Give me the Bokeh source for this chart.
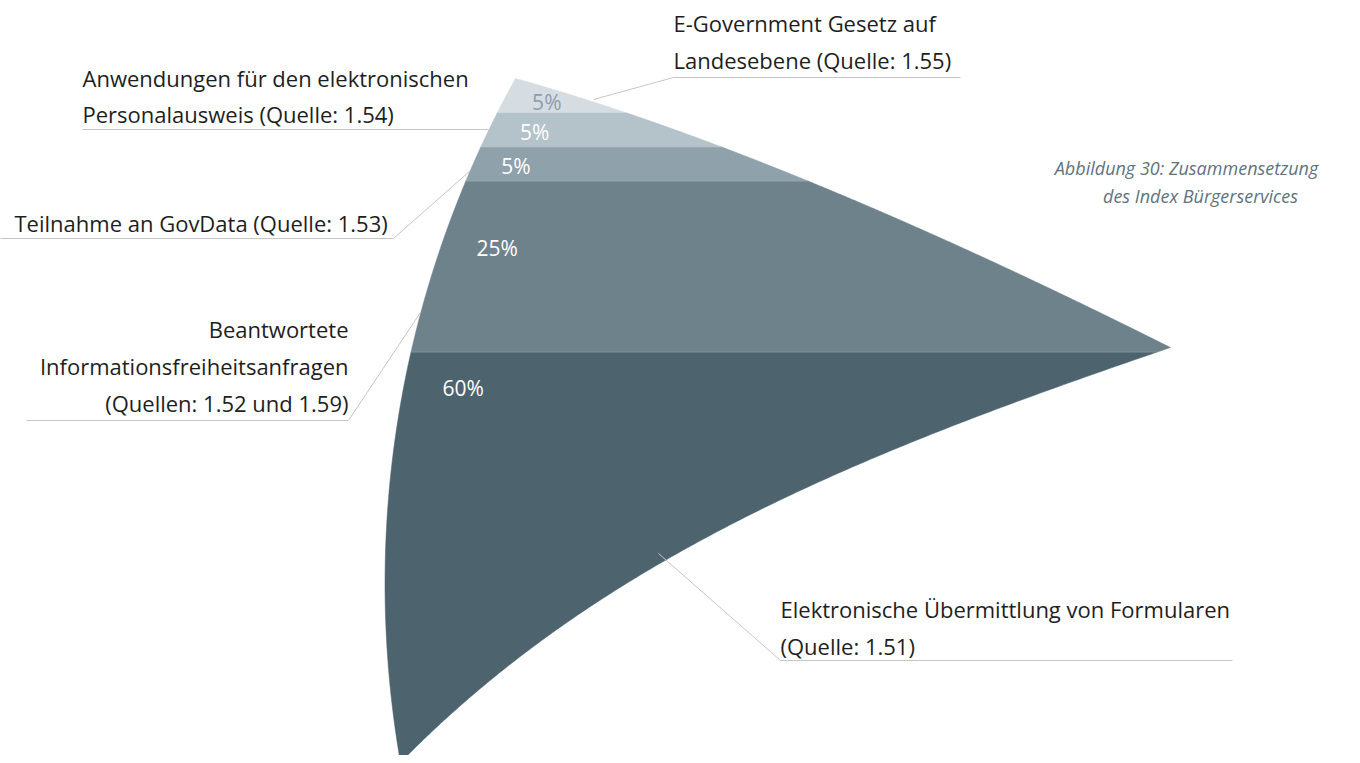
import numpy as np
from bokeh.plotting import figure
from bokeh.models import Range1d
from bokeh.core.properties import value
from bokeh.embed import file_html
from bokeh.resources import INLINE

# ---------------- data (top band first) ----------------
categories = [
    "E-Government Gesetz auf Landesebene (Quelle: 1.55)",
    "Anwendungen für den elektronischen Personalausweis (Quelle: 1.54)",
    "Teilnahme an GovData (Quelle: 1.53)",
    "Beantwortete Informationsfreiheitsanfragen (Quellen: 1.52 und 1.59)",
    "Elektronische Übermittlung von Formularen (Quelle: 1.51)",
]
shares = [5, 5, 5, 25, 60]
pct_labels = ["5%", "5%", "5%", "25%", "60%"]

label_lines = [
    ["E-Government Gesetz auf", "Landesebene (Quelle: 1.55)"],
    ["Anwendungen für den elektronischen", "Personalausweis (Quelle: 1.54)"],
    ["Teilnahme an GovData (Quelle: 1.53)"],
    ["Beantwortete", "Informationsfreiheitsanfragen", "(Quellen: 1.52 und 1.59)"],
    ["Elektronische Übermittlung von Formularen", "(Quelle: 1.51)"],
]
title_lines = ["Abbildung 30: Zusammensetzung", "des Index Bürgerservices"]

# ---------------- styling ----------------
band_colors = ["#d5dde2", "#b4c2c9", "#8fa1aa", "#6e828c", "#4d636e"]
pct_colors = ["#8d9ea8", "#ffffff", "#ffffff", "#ffffff", "#ffffff"]
FONT = "Open Sans"

# ---------------- geometry of the outline (screen-like coords) ----------------
TOP_Y, BOT_Y = 78.0, 762.0
CX, CY, R = 1427.0, 583.0, 1042.5  # left arc


def left_x(y):
    return CX - np.sqrt(R ** 2 - (y - CY) ** 2)


t = np.linspace(0, 1, 400)
# upper right edge (quadratic Bezier)
q0, q1, q2 = np.array([515.0, 78.0]), np.array([781.0, 152.0]), np.array([1170.0, 347.0])
up = ((1 - t) ** 2)[:, None] * q0 + (2 * t * (1 - t))[:, None] * q1 + (t ** 2)[:, None] * q2
# lower right edge (cubic Bezier)
c0, c1, c2, c3 = (np.array([1170.0, 347.0]), np.array([886.0, 444.0]),
                  np.array([609.0, 548.0]), np.array([400.0, 762.0]))
lo = (((1 - t) ** 3)[:, None] * c0 + (3 * t * (1 - t) ** 2)[:, None] * c1
      + (3 * t ** 2 * (1 - t))[:, None] * c2 + (t ** 3)[:, None] * c3)
right_pts = np.vstack([up, lo[1:]])
VERTEX_Y = 347.0


def right_x(y):
    return np.interp(y, right_pts[:, 1], right_pts[:, 0])


# band boundaries from shares
cum = np.concatenate([[0], np.cumsum(shares)]) / float(sum(shares))
bounds = TOP_Y + cum * (BOT_Y - TOP_Y)

p = figure(width=1344, height=755, output_backend="svg", toolbar_location=None,
           x_range=Range1d(0, 1344), y_range=Range1d(755, 0), min_border=0)
p.xaxis.visible = False
p.yaxis.visible = False
p.grid.visible = False
p.outline_line_color = None
p.background_fill_color = "white"
p.border_fill_color = "white"

xs_list, ys_list = [], []
for i in range(len(shares)):
    y0, y1 = bounds[i], bounds[i + 1]
    ys = np.linspace(y0, y1, 200)
    if y0 < VERTEX_Y < y1:
        ys = np.sort(np.append(ys, VERTEX_Y))
    xl = left_x(ys)
    xr = right_x(ys)
    xs_list.append(list(np.concatenate([xl, xr[::-1]])))
    ys_list.append(list(np.concatenate([ys, ys[::-1]])))

p.patches(xs_list, ys_list, fill_color=band_colors, line_color=band_colors, line_width=0.5)
# thin light separators between bands
for b in bounds[1:-1]:
    p.line([left_x(b), right_x(b)], [b, b], line_color="#ffffff", line_alpha=0.25, line_width=1)

# percentage labels
pct_offsets = [23, 19, 19, 67, 36]
pct_dx = [29, 32, 29, 36, 39]
for i in range(len(shares)):
    yy = bounds[i] + pct_offsets[i]
    p.text([left_x(yy) + pct_dx[i]], [yy], text=[pct_labels[i]], text_color=pct_colors[i],
           text_font=value(FONT), text_font_size="21px", text_baseline="middle", text_align="left")

# leader lines
LC = "#c6c6c6"
leaders = [
    ([593, 673, 960], [99, 77, 77]),
    ([82, 488], [129, 129]),
    ([0, 393, 470], [238, 238, 170]),
    ([26, 348, 420], [420, 420, 312]),
    ([658, 780, 1232], [553, 660, 660]),
]
for lx, ly in leaders:
    p.line(lx, ly, line_color=LC, line_width=1)

# category labels
label_pos = [
    (673, [22, 59], "left"),
    (82, [77, 113], "left"),
    (14, [222], "left"),
    (348, [328, 365, 402], "right"),
    (780, [608, 645], "left"),
]
for lines, (lx, lys, al) in zip(label_lines, label_pos):
    p.text([lx] * len(lines), lys, text=lines, text_color="#1e1e1e", text_font=value(FONT),
           text_font_size="22px", text_baseline="middle", text_align=al)

# caption
p.text([1186, 1200], [167, 195], text=title_lines, text_color="#61737d", text_font=value(FONT),
       text_font_style="italic", text_font_size="18px", text_baseline="middle", text_align="center")

open("out.html", "w").write(file_html(p, INLINE))
